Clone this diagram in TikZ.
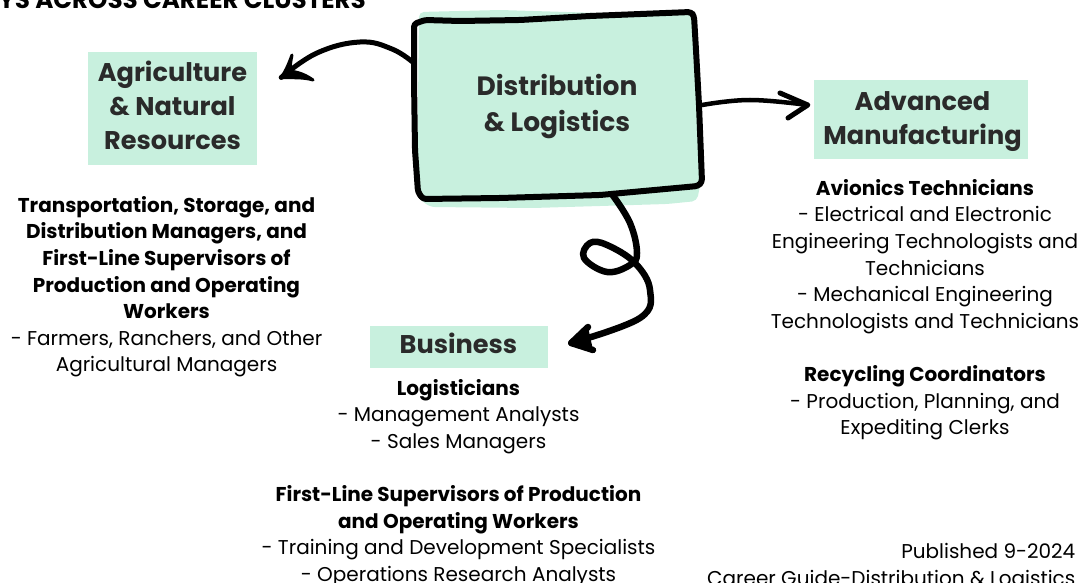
\documentclass[tikz,border=0pt]{standalone}
\usepackage{fontspec}
\setmainfont{Poppins}
\usetikzlibrary{calc}
\definecolor{mint}{HTML}{C8F0DE}
\definecolor{ink}{HTML}{2A2A2A}
\tikzset{
  x=1pt,y=-1pt,
  headbox/.style={fill=mint,inner sep=0pt},
  headtext/.style={inner sep=0pt,text=ink,align=center,font=\fontsize{25.6}{34}\selectfont\bfseries},
  hubnode/.style={inner sep=0pt,text=ink,align=center,minimum width=286pt,minimum height=174pt,font=\fontsize{26.5}{36}\selectfont\bfseries},
  body/.style={inner sep=0pt,text=black,align=center,anchor=north,font=\fontsize{20}{26.6}\selectfont},
  corner/.style={inner sep=0pt,text=black,align=right,anchor=north east,font=\fontsize{20}{26.6}\selectfont},
  titletext/.style={inner sep=0pt,text=black,anchor=base east,font=\fontsize{24.6}{26}\selectfont\bfseries},
  sketch/.style={draw=black,line cap=round,line join=round,line width=5pt},
}
\begin{document}
\begin{tikzpicture}
\useasboundingbox (0,0) rectangle (1079,583);
\clip (0,0) rectangle (1079,583);
% mint wash behind the hub
\fill[mint,rounded corners=5pt] (419,12) -- (500,10) -- (600,13) -- (690,11) -- (698,43) -- (700,100) -- (703,170) -- (697,201) -- (667,204) -- (533,208) -- (430,207) -- (417,197) -- cycle;
% hand-drawn hub outline
\draw[sketch,line width=6pt,rounded corners=3pt] (414,24) -- (425,20) -- (460,21) -- (520,20) -- (590,16) -- (691,12) -- (694,16) -- (696,50) -- (699,105) -- (702,182) -- (698,186) -- (600,195) -- (500,198) -- (423,199) -- (418,192) -- (415,150) -- (414,80) -- cycle;
\node[hubnode] (hub) at (557,107) {Distribution\\\& Logistics};

\node[titletext] (title) at (366,8.5) {YS ACROSS CAREER CLUSTERS};

\node[headbox,minimum width=169pt,minimum height=113pt] (agri) at (172.5,108.5) {};
\node[headtext] (agrilabel) at ([yshift=3pt]agri.center) {Agriculture\\\& Natural\\Resources};
\node[headbox,minimum width=214pt,minimum height=79pt] (adv) at (921,119.5) {};
\node[headtext] (advlabel) at ([xshift=1.5pt,yshift=-2.5pt]adv.center) {Advanced\\Manufacturing};
\node[headbox,minimum width=178pt,minimum height=42pt] (biz) at (459,347) {};
\node[headtext] (bizlabel) at ([xshift=-0.5pt,yshift=4pt]biz.center) {Business};

\node[body] (agritext) at (166.5,196) {\textbf{Transportation, Storage, and}\\\textbf{Distribution Managers, and}\\\textbf{First-Line Supervisors of}\\\textbf{Production and Operating}\\\textbf{Workers}\\- Farmers, Ranchers, and Other\\Agricultural Managers};
\node[body] (advtext) at (925,179) {\textbf{Avionics Technicians}\\- Electrical and Electronic\\Engineering Technologists and\\Technicians\\- Mechanical Engineering\\Technologists and Technicians\\[26.6pt]\textbf{Recycling Coordinators}\\- Production, Planning, and\\Expediting Clerks};
\node[body] (biztext) at (458.5,379) {\textbf{Logisticians}\\- Management Analysts\\- Sales Managers\\[26.6pt]\textbf{First-Line Supervisors of Production}\\\textbf{and Operating Workers}\\- Training and Development Specialists\\- Operations Research Analysts};
\node[corner] (pub) at (1075.5,543.5) {Published 9-2024\\Career Guide-Distribution \& Logistics};

% connectors
\coordinate (hubL) at ([yshift=44pt]hub.west);
\coordinate (hubR) at ([xshift=2pt,yshift=2pt]hub.east);
\coordinate (hubB) at ([xshift=55pt]hub.south);
\coordinate (agriTip) at ([xshift=24pt,yshift=31pt]agri.east);
\coordinate (advTip) at ([xshift=-6pt,yshift=14.5pt]adv.west);
\coordinate (bizTip) at ([xshift=23pt,yshift=4pt]biz.east);

\draw[sketch] plot[smooth,tension=.7] coordinates {(hubL) (392,49) (360,42) (317,53) (agriTip)};
\draw[sketch,line width=3pt,fill=black] (292,55) .. controls (288,66) and (285,72) .. (agriTip) .. controls (292,78) and (303,77) .. (313,80) .. controls (303,73) and (296,72) .. (290,71) .. controls (290,66) and (291,60) .. cycle;

\draw[sketch,line width=4.5pt] plot[smooth,tension=.7] coordinates {(hubR) (750,100) (advTip)};
\draw[sketch,line width=5pt] (780,93) -- (advTip) -- (788,118);

\draw[sketch,line width=6.5pt] plot[smooth,tension=.65] coordinates {(hubB) (630,223) (637,253) (630,265) (607,272) (584,258) (590,243) (607,245) (635,263) (650,290) (640,318) (bizTip)};
\draw[sketch,line width=6.5pt,fill=black] (588,327) -- (bizTip) -- (593,350);
\end{tikzpicture}
\end{document}
